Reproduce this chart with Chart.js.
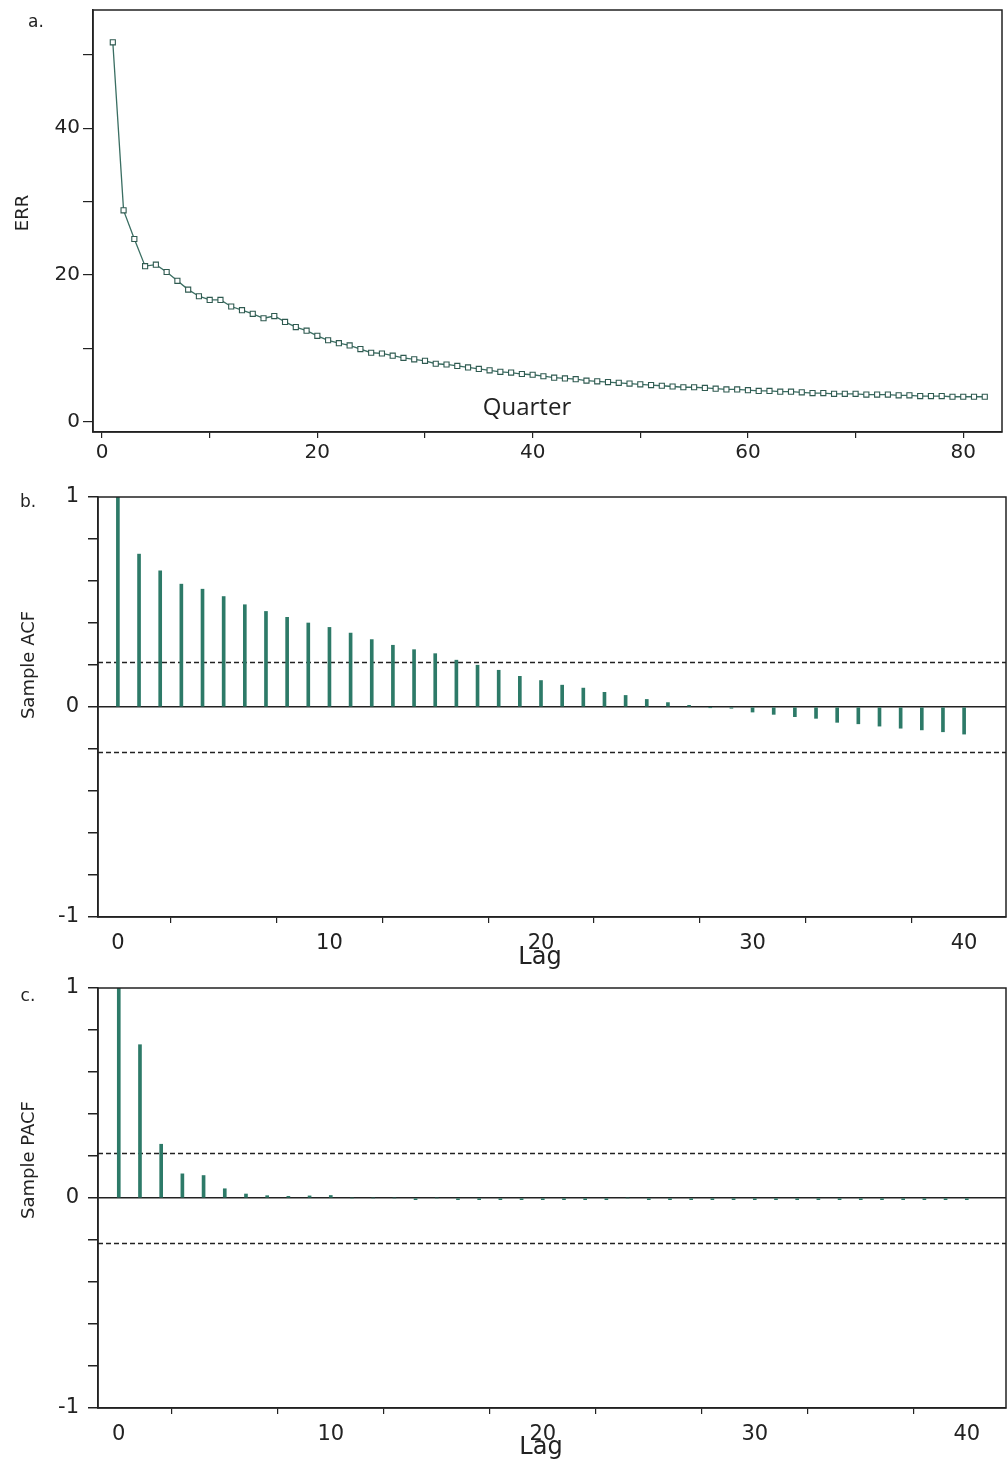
<!DOCTYPE html>
<html><head><meta charset="utf-8">
<script src="https://cdn.jsdelivr.net/npm/chart.js@4.4.0/dist/chart.umd.min.js"></script>
<style>
html,body{margin:0;padding:0;background:#fff;}
#wrap{position:relative;width:1008px;height:1467px;background:#fff;}
canvas{position:absolute;left:0;}
</style></head><body>
<div id="wrap">
<canvas id="ca" width="1008" height="480" style="top:0px"></canvas>
<canvas id="cb" width="1008" height="490" style="top:480px"></canvas>
<canvas id="cc" width="1008" height="497" style="top:970px"></canvas>
</div>
<script>
// ---------- data ----------
const quarters = [1,2,3,4,5,6,7,8,9,10,11,12,13,14,15,16,17,18,19,20,21,22,23,24,25,26,27,28,29,30,31,32,33,34,35,36,37,38,39,40,41,42,43,44,45,46,47,48,49,50,51,52,53,54,55,56,57,58,59,60,61,62,63,64,65,66,67,68,69,70,71,72,73,74,75,76,77,78,79,80,81,82];
const errValues = [51.7,28.8,24.9,21.2,21.4,20.4,19.2,18.0,17.1,16.6,16.6,15.7,15.2,14.7,14.1,14.4,13.6,12.9,12.4,11.7,11.1,10.7,10.4,9.9,9.4,9.3,9.0,8.7,8.5,8.3,7.9,7.8,7.6,7.4,7.2,7.0,6.8,6.7,6.5,6.4,6.2,6.0,5.9,5.8,5.6,5.5,5.4,5.3,5.2,5.1,5.0,4.9,4.8,4.7,4.7,4.6,4.5,4.4,4.4,4.3,4.2,4.2,4.1,4.1,4.0,3.9,3.9,3.8,3.8,3.8,3.7,3.7,3.7,3.6,3.6,3.5,3.5,3.5,3.4,3.4,3.4,3.4];
const lags = [0,1,2,3,4,5,6,7,8,9,10,11,12,13,14,15,16,17,18,19,20,21,22,23,24,25,26,27,28,29,30,31,32,33,34,35,36,37,38,39,40];
const acfValues = [1.0,0.728,0.649,0.585,0.561,0.526,0.487,0.455,0.427,0.400,0.379,0.352,0.321,0.294,0.273,0.254,0.223,0.199,0.175,0.146,0.126,0.104,0.090,0.070,0.055,0.036,0.021,0.008,-0.002,-0.006,-0.024,-0.035,-0.046,-0.054,-0.073,-0.080,-0.091,-0.101,-0.109,-0.118,-0.129];
const pacfValues = [1.0,0.730,0.256,0.115,0.107,0.044,0.019,0.011,0.008,0.010,0.012,0.0,0.0,0.0,-0.008,0.0,-0.008,-0.008,-0.008,-0.008,-0.008,-0.008,-0.008,-0.008,0.0,-0.008,-0.008,-0.008,-0.008,-0.008,-0.008,-0.008,-0.008,-0.008,-0.008,-0.008,-0.008,-0.008,-0.008,-0.008,-0.008];
const confBound = 0.215;
const errYTicks = [0,10,20,30,40,50];
const errYLabels = [0,20,40];
const quarterTicks = [0,10,20,30,40,50,60,70,80];
const quarterLabels = [0,20,40,60,80];
const corrYTicks = [-1,-0.8,-0.6,-0.4,-0.2,0,0.2,0.4,0.6,0.8,1];
const corrYLabels = {'-1':'-1','0':'0','1':'1'};
const lagTicks = [0,5,10,15,20,25,30,35,40];
const lagLabels = [0,10,20,30,40];

// ---------- styling ----------
const INK = '#222';
const STEM = '#2d7a68';
const tickFont = {family:'DejaVu Sans', size:20};
const tickFontB = {family:'DejaVu Sans', size:21};

const framePlugin = {
  id:'frame',
  afterDraw(chart){
    const {ctx, chartArea:a} = chart;
    ctx.save(); ctx.strokeStyle = INK; ctx.lineWidth = 1.5;
    ctx.strokeRect(a.left, a.top, a.right - a.left, a.bottom - a.top);
    ctx.restore();
  }
};
const textPlugin = {
  id:'texts',
  afterDraw(chart, args, opts){
    const ctx = chart.ctx;
    (opts.items || []).forEach(it => {
      ctx.save();
      ctx.font = it.font; ctx.fillStyle = INK;
      ctx.textAlign = 'center'; ctx.textBaseline = 'middle';
      ctx.translate(it.x, it.y);
      if (it.rot) ctx.rotate(it.rot);
      ctx.fillText(it.t, 0, 0);
      ctx.restore();
    });
  }
};
const confPlugin = {
  id:'conf',
  beforeDatasetsDraw(chart, args, opts){
    if (!opts.bound) return;
    const {ctx, chartArea:a} = chart; const y = chart.scales.y;
    ctx.save(); ctx.strokeStyle = INK; ctx.lineWidth = 1.3; ctx.setLineDash([5,3]);
    [opts.bound, -opts.bound].forEach(v => {
      const py = Math.round(y.getPixelForValue(v)) + 0.5;
      ctx.beginPath(); ctx.moveTo(a.left, py); ctx.lineTo(a.right, py); ctx.stroke();
    });
    ctx.restore();
  }
};
function fixX(h){ return s => { s.height = h; s.paddingLeft = 0; s.paddingRight = 0; s.paddingTop = 0; s.paddingBottom = 0; }; }
function fixY(w){ return s => { s.width = w; s.paddingTop = 0; s.paddingBottom = 0; s.paddingLeft = 0; s.paddingRight = 0; }; }

// ---------- panel a ----------
new Chart(document.getElementById('ca'), {
  type:'line',
  data:{ datasets:[{
    data: quarters.map((q,i)=>({x:q, y:errValues[i]})),
    borderColor:'#3a6e62', borderWidth:1.3, pointStyle:'rect', pointRadius:3.6,
    pointBorderColor:'#2f5a50', pointBorderWidth:1.1, pointBackgroundColor:'#ffffff', tension:0
  }]},
  options:{
    responsive:false, animation:false,
    layout:{padding:{left:0, top:10, right:6, bottom:0}},
    plugins:{legend:{display:false}, tooltip:{enabled:false},
      texts:{items:[
        {t:'a.', x:36, y:23, font:'17px "DejaVu Sans"'},
        {t:'ERR', x:23, y:213, font:'18px "DejaVu Sans"', rot:-Math.PI/2},
        {t:'Quarter', x:527, y:408, font:'24px "Open Sans"'}
      ]}},
    scales:{
      x:{type:'linear', min:-0.84, max:83.6, offset:false,
        afterBuildTicks: s => { s.ticks = quarterTicks.map(v=>({value:v})); },
        ticks:{autoSkip:false, maxRotation:0, padding:3, font:tickFont, color:INK,
          callback: v => quarterLabels.includes(v) ? String(v) : ''},
        grid:{drawOnChartArea:false, tickLength:6, tickColor:INK, lineWidth:1.2},
        border:{display:true, color:INK, width:1.5},
        afterFit: fixX(48)
      },
      y:{type:'linear', min:-1.4, max:56.1,
        afterBuildTicks: s => { s.ticks = errYTicks.map(v=>({value:v})); },
        ticks:{autoSkip:false, padding:3, font:tickFont, color:INK,
          callback: v => errYLabels.includes(v) ? String(v) : ''},
        grid:{drawOnChartArea:false, tickLength:10, tickColor:INK, lineWidth:1.2},
        border:{display:true, color:INK, width:1.5},
        afterFit: fixY(93)
      }
    }
  },
  plugins:[framePlugin, textPlugin]
});

// ---------- correlogram factory ----------
function corrChart(id, values, opts){
  return new Chart(document.getElementById(id), {
    type:'bar',
    data:{ datasets:[{
      data: lags.map((l,i)=>({x:l, y:values[i]})),
      backgroundColor:STEM, borderWidth:0, barThickness:3, grouped:false
    }]},
    options:{
      responsive:false, animation:false,
      layout:{padding:{left:0, top:opts.top, right:2, bottom:0}},
      plugins:{legend:{display:false}, tooltip:{enabled:false},
        conf:{bound:confBound},
        texts:{items:opts.texts}},
      scales:{
        x:{type:'linear', min:opts.xmin, max:opts.xmax, offset:false,
          afterBuildTicks: s => { s.ticks = lagTicks.map(v=>({value:v})); },
          ticks:{autoSkip:false, maxRotation:0, padding:8, font:tickFontB, color:INK,
            callback: v => lagLabels.includes(v) ? String(v) : ''},
          grid:{drawOnChartArea:false, tickLength:6, tickColor:INK, lineWidth:1.2},
          border:{display:true, color:INK, width:1.5},
          afterFit: fixX(opts.axisH)
        },
        y:{type:'linear', min:-1, max:1,
          afterBuildTicks: s => { s.ticks = corrYTicks.map(v=>({value:v})); },
          ticks:{autoSkip:false, padding:9, font:tickFontB, color:INK,
            callback: v => corrYLabels[String(v)] || ''},
          grid:{drawOnChartArea:true, tickLength:10, tickColor:INK, lineWidth:1.5,
            color: c => (c.tick && c.tick.value === 0) ? INK : 'rgba(0,0,0,0)'},
          border:{display:true, color:INK, width:1.5},
          afterFit: fixY(98)
        }
      }
    },
    plugins:[confPlugin, framePlugin, textPlugin]
  });
}

corrChart('cb', acfValues, {top:17, axisH:53, xmin:-0.94, xmax:41.98, texts:[
  {t:'b.', x:28, y:23, font:'17px "DejaVu Sans"'},
  {t:'Sample ACF', x:29, y:185, font:'18px "DejaVu Sans"', rot:-Math.PI/2},
  {t:'Lag', x:540, y:478, font:'24px "DejaVu Sans"'}
]});
corrChart('cc', pacfValues, {top:18, axisH:59, xmin:-0.98, xmax:41.85, texts:[
  {t:'c.', x:28, y:27, font:'17px "DejaVu Sans"'},
  {t:'Sample PACF', x:29, y:190, font:'18px "DejaVu Sans"', rot:-Math.PI/2},
  {t:'Lag', x:541, y:478, font:'24px "DejaVu Sans"'}
]});
</script>
</body></html>
